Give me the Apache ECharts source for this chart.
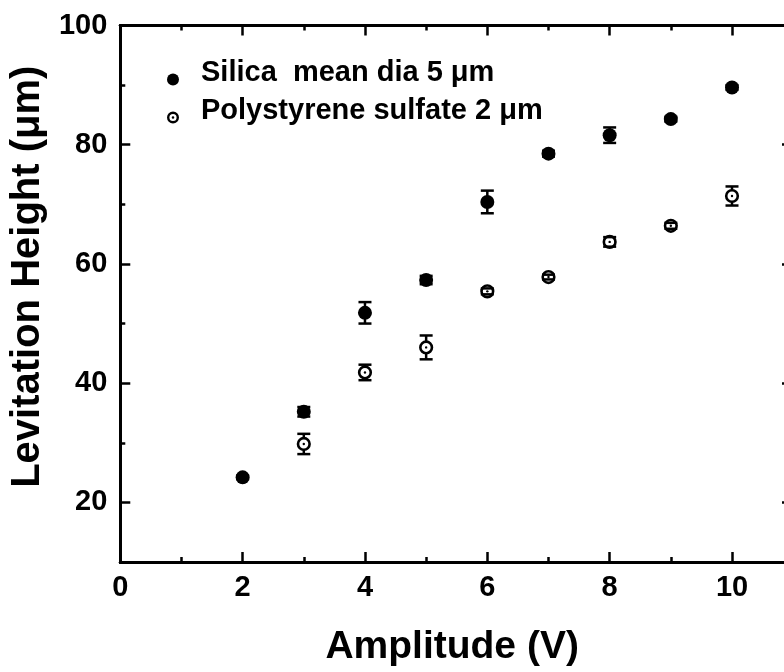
<!DOCTYPE html>
<html>
<head>
<meta charset="utf-8">
<script src="https://cdn.jsdelivr.net/npm/echarts@6/dist/echarts.min.js"></script>
<style>
html,body{margin:0;padding:0;background:#fff;}
#chart{width:784px;height:672px;}
</style>
</head>
<body>
<div id="chart"></div>
<script>
// ---- data ----
const silicaX = [2, 3, 4, 5, 6, 7, 8, 9, 10];
const silicaY = [24.2, 35.2, 51.8, 57.3, 70.4, 78.5, 81.6, 84.3, 89.6];
const silicaErr = [0.3, 0.8, 1.8, 0.7, 1.9, 0.5, 1.3, 0.4, 0.4];
const polyX = [3, 4, 5, 6, 7, 8, 9, 10];
const polyY = [29.8, 41.8, 46.0, 55.4, 57.8, 63.7, 66.4, 71.4];
const polyErr = [1.7, 1.3, 2.0, 0.5, 0.4, 0.8, 0.5, 1.6];
const xMajor = [0, 2, 4, 6, 8, 10];
const xMinor = [1, 3, 5, 7, 9];
const yMajor = [20, 40, 60, 80, 100];
const yMinor = [10, 30, 50, 70, 90];
const seriesNames = ['Silica  mean dia 5 \u03bcm', 'Polystyrene sulfate 2 \u03bcm'];
// the original frame is cut off at the right edge of the picture
const X_MAX = 10.85;

const FONT = "'Liberation Sans', Arial, sans-serif";
const chart = echarts.init(document.getElementById('chart'));

function makeRender(open) {
  return function (params, api) {
    const x = api.value(0), y = api.value(1), e = api.value(2);
    const c = api.coord([x, y]);
    const hi = api.coord([x, y + e]);
    const lo = api.coord([x, y - e]);
    const cap = 6.5;
    const ls = { stroke: '#000', lineWidth: 2.5 };
    const vline = { type: 'line', shape: { x1: c[0], y1: hi[1], x2: c[0], y2: lo[1] }, style: ls };
    const caps = [
      { type: 'line', shape: { x1: c[0] - cap, y1: hi[1], x2: c[0] + cap, y2: hi[1] }, style: ls },
      { type: 'line', shape: { x1: c[0] - cap, y1: lo[1], x2: c[0] + cap, y2: lo[1] }, style: ls }
    ];
    let children;
    if (open) {
      children = [vline,
        { type: 'circle', shape: { cx: c[0], cy: c[1], r: 5.8 }, style: { fill: '#fff', stroke: '#000', lineWidth: 2.6 } }
      ].concat(caps).concat([
        { type: 'circle', shape: { cx: c[0], cy: c[1], r: 1.2 }, style: { fill: '#000' } }
      ]);
    } else {
      children = [vline].concat(caps).concat([
        { type: 'circle', shape: { cx: c[0], cy: c[1], r: 7 }, style: { fill: '#000' } }
      ]);
    }
    return { type: 'group', children: children };
  };
}

const axisLineStyle = { color: '#000', width: 3 };
function xAx(pos, ticks, len, labels) {
  return {
    type: 'value', position: pos, min: 0, max: X_MAX, interval: 1,
    axisLine: { show: true, onZero: false, lineStyle: axisLineStyle },
    axisTick: { show: true, inside: true, length: len, customValues: ticks, lineStyle: { color: '#000', width: 2.5 } },
    axisLabel: labels ? { show: true, customValues: xMajor, margin: 11, color: '#000', fontSize: 29, fontWeight: 'bold', fontFamily: FONT } : { show: false },
    splitLine: { show: false },
    name: (labels ? 'Amplitude (V)' : ''),
    nameLocation: 'middle', nameGap: 66,
    nameTextStyle: { color: '#000', fontSize: 39, fontWeight: 'bold', fontFamily: FONT, padding: [0, 0, 0, 0] }
  };
}
function yAx(pos, ticks, len, labels, showLine) {
  return {
    type: 'value', position: pos, min: 10, max: 100, interval: 10,
    axisLine: { show: showLine, onZero: false, lineStyle: axisLineStyle },
    axisTick: { show: true, inside: true, length: len, customValues: ticks, lineStyle: { color: '#000', width: 2.5 } },
    axisLabel: labels ? { show: true, customValues: yMajor, margin: 13, color: '#000', fontSize: 29, fontWeight: 'bold', fontFamily: FONT } : { show: false },
    splitLine: { show: false },
    name: (labels ? 'Levitation Height (\u03bcm)' : ''),
    nameLocation: 'middle', nameGap: 67,
    nameTextStyle: { color: '#000', fontSize: 40, fontWeight: 'bold', fontFamily: FONT, padding: [0, 0, 0, 34] }
  };
}

// legend icons: an invisible zero-length segment above the symbol shifts the visible mark lower in its box
const dotPath = 'path://M0,-20L0,-20 M0,-6A6,6,0,1,1,0,6A6,6,0,1,1,0,-6Z';
const ringPath = 'path://M0,-20L0,-20 M0,-6A6,6,0,1,1,0,6A6,6,0,1,1,0,-6Z M0,-3.6A3.6,3.6,0,1,0,0,3.6A3.6,3.6,0,1,0,0,-3.6Z M0,-1.3A1.3,1.3,0,1,1,0,1.3A1.3,1.3,0,1,1,0,-1.3Z';

chart.setOption({
  animation: false,
  backgroundColor: '#fff',
  grid: { left: 119, right: 0, top: 25.5, bottom: 108.5, containLabel: false },
  xAxis: [xAx('bottom', xMajor, 10, true), xAx('bottom', xMinor, 5, false), xAx('top', xMajor, 10, false), xAx('top', xMinor, 5, false)],
  yAxis: [yAx('left', yMajor, 10, true, true), yAx('left', yMinor, 5, false, true), yAx('right', yMajor, 2, false, false)],
  legend: {
    orient: 'vertical', left: 167, top: 58, padding: 0, itemGap: 9,
    itemWidth: 12, itemHeight: 26,
    textStyle: { color: '#000', fontSize: 29, fontWeight: 'bold', fontFamily: FONT, padding: [0, 0, 0, 17] },
    data: [
      { name: seriesNames[0], icon: dotPath, itemStyle: { color: '#000' } },
      { name: seriesNames[1], icon: ringPath, itemStyle: { color: '#000' } }
    ]
  },
  series: [
    {
      name: seriesNames[0], type: 'custom', xAxisIndex: 0, yAxisIndex: 0,
      itemStyle: { color: '#000' },
      renderItem: makeRender(false),
      encode: { x: 0, y: 1 },
      data: silicaX.map((x, i) => [x, silicaY[i], silicaErr[i]])
    },
    {
      name: seriesNames[1], type: 'custom', xAxisIndex: 0, yAxisIndex: 0,
      itemStyle: { color: '#000' },
      renderItem: makeRender(true),
      encode: { x: 0, y: 1 },
      data: polyX.map((x, i) => [x, polyY[i], polyErr[i]])
    }
  ]
});
</script>
</body>
</html>
